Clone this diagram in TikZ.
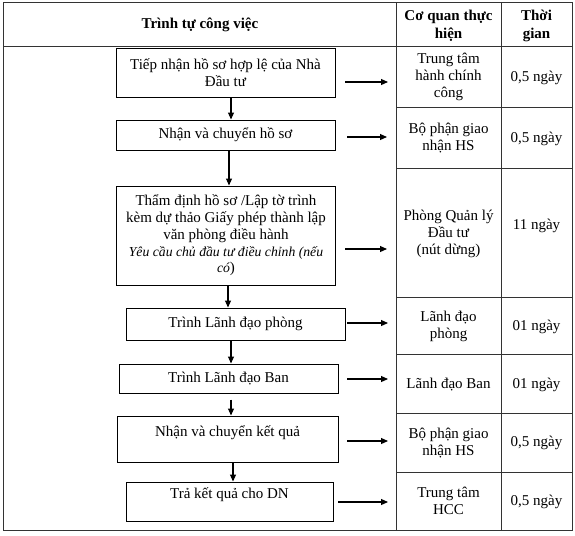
\documentclass[tikz,border=0pt]{standalone}
\usepackage{fontspec}
\setmainfont{Liberation Serif}
\usetikzlibrary{arrows.meta}

\tikzset{
  procbox/.style={draw, line width=1pt, align=center, inner sep=0pt,
    font=\fontsize{15}{16.8}\selectfont},
  celltext/.style={align=center, font=\fontsize{15}{16.8}\selectfont},
  headtext/.style={align=center, font=\fontsize{15}{17.5}\selectfont\bfseries},
  flow/.style={-{Triangle[length=7pt,width=6pt]}, line width=1.1pt},
  gridline/.style={line width=1pt, draw=black!80}
}

\begin{document}
\begin{tikzpicture}[x=1pt, y=-1pt]

  \useasboundingbox (0,0) rectangle (575,535);

  % khung bảng
  \draw[gridline] (3,3) rectangle (572,530);
  \draw[gridline] (3,47) -- (572,47);
  \draw[gridline] (396,3) -- (396,530);
  \draw[gridline] (501,3) -- (501,530);
  \foreach \ry in {107,168,297,354,413,472}
    \draw[gridline] (396,\ry) -- (572,\ry);

  % tiêu đề
  \node[headtext] (hdwork) at (200,25) {Trình tự công việc};
  \node[headtext] (hdorg) at (448.5,26) {Cơ quan thực\\hiện};
  \node[headtext] (hdtime) at (536.5,26) {Thời\\gian};

  % các bước
  \node[procbox, minimum width=219pt, minimum height=48pt] (b1) at (225.5,73)
    {Tiếp nhận hồ sơ hợp lệ của Nhà\\Đầu tư};
  \node[procbox, minimum width=219pt, minimum height=30pt] (b2) at (225.5,135)
    {Nhận và chuyển hồ sơ};
  \node[procbox, minimum width=219pt, minimum height=99pt] (b3) at (226,235.5)
    {Thẩm định hồ sơ /Lập tờ trình\\kèm dự thảo Giấy phép thành lập\\văn phòng điều hành\\
     {\fontsize{13.7}{16.8}\selectfont\itshape Yêu cầu chủ đầu tư điều chỉnh (nếu}\\
     {\fontsize{13.7}{16.8}\selectfont\itshape có})};
  \node[procbox, minimum width=219pt, minimum height=32pt] (b4) at (235.5,324)
    {Trình Lãnh đạo phòng};
  \node[procbox, minimum width=219pt, minimum height=29pt] (b5) at (228.5,378.5)
    {Trình Lãnh đạo Ban};
  \node[procbox, minimum width=221pt, minimum height=46pt] (b6) at (227.5,439)
    {Nhận và chuyển kết quả\\~};
  \node[procbox, minimum width=207pt, minimum height=39pt] (b7) at (229.5,501.5)
    {Trả kết quả cho DN\\~};

  % cơ quan thực hiện
  \node[celltext] (o1) at (448.5,77) {Trung tâm\\hành chính\\công};
  \node[celltext] (o2) at (448.5,138) {Bộ phận giao\\nhận HS};
  \node[celltext] (o3) at (448.5,234) {Phòng Quản lý\\Đầu tư\\(nút dừng)};
  \node[celltext] (o4) at (448.5,326.5) {Lãnh đạo\\phòng};
  \node[celltext] (o5) at (448.5,385) {Lãnh đạo Ban};
  \node[celltext] (o6) at (448.5,443) {Bộ phận giao\\nhận HS};
  \node[celltext] (o7) at (448.5,501) {Trung tâm\\HCC};

  % thời gian
  \node[celltext] (t1) at (536.5,78) {0,5 ngày};
  \node[celltext] (t2) at (536.5,139) {0,5 ngày};
  \node[celltext] (t3) at (536.5,226) {11 ngày};
  \node[celltext] (t4) at (536.5,327) {01 ngày};
  \node[celltext] (t5) at (536.5,385) {01 ngày};
  \node[celltext] (t6) at (536.5,443) {0,5 ngày};
  \node[celltext] (t7) at (536.5,502) {0,5 ngày};

  % mũi tên ngang
  \coordinate (s1) at (345,82);  \coordinate (e1) at (388,82);
  \coordinate (s2) at (347,137); \coordinate (e2) at (387,137);
  \coordinate (s3) at (345,249); \coordinate (e3) at (387,249);
  \coordinate (s4) at (347,323); \coordinate (e4) at (388,323);
  \coordinate (s5) at (347,379); \coordinate (e5) at (388,379);
  \coordinate (s6) at (347,441); \coordinate (e6) at (388,441);
  \coordinate (s7) at (338,502); \coordinate (e7) at (388,502);
  \foreach \i in {1,...,7}
    \draw[flow] (s\i) -- (e\i);

  % mũi tên dọc
  \draw[flow] ([xshift=5.5pt]b1.south) -- ([xshift=5.5pt]b1.south |- b2.north);
  \draw[flow] ([xshift=3.5pt]b2.south) -- ([xshift=3.5pt]b2.south |- b3.north);
  \draw[flow] ([xshift=2pt]b3.south) -- ([xshift=2pt]b3.south |- b4.north);
  \draw[flow] ([xshift=-4.5pt]b4.south) -- ([xshift=-4.5pt]b4.south |- b5.north);
  \draw[flow, shorten <=6pt] ([xshift=2.5pt]b5.south) -- ([xshift=2.5pt]b5.south |- b6.north);
  \draw[flow] ([xshift=5.5pt]b6.south) -- ([xshift=5.5pt]b6.south |- b7.north);

\end{tikzpicture}
\end{document}
